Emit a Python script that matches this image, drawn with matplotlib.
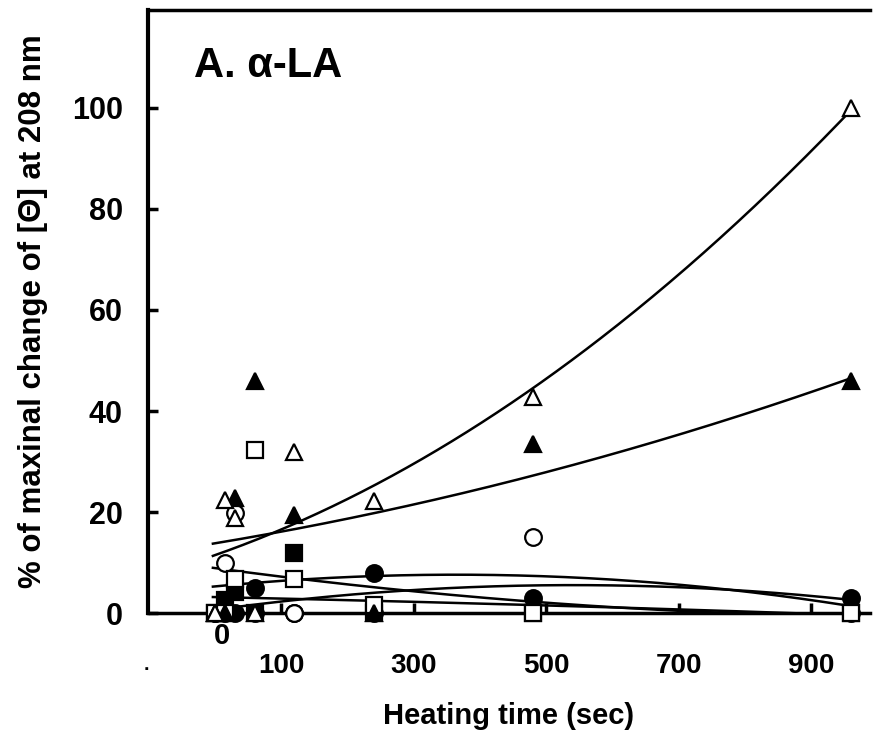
import numpy as np
import matplotlib.pyplot as plt

# heating time (sec) and % of maximal change of [theta] at 208 nm
t = [0, 15, 30, 60, 120, 240, 480, 960]
open_tri = [0, 22.3, 18.9, 0, 31.8, 22.1, 42.7, 100]
fill_tri = [0, 0, 22.7, 46.0, 19.5, 0, 33.4, 46.0]
open_circ = [0, 9.9, 19.9, 0, 0, 0, 15.1, 0]
fill_circ = [0, 0, 0, 5.0, 0, 8.0, 3.0, 3.0]
fill_sq = [0, 2.6, 4.2, 0, 11.9, 0, 0, 0]
open_sq = [0, 0, 6.8, 32.2, 6.8, 1.5, 0, 0]

xticks = [100, 300, 500, 700, 900]
yticks = [0, 20, 40, 60, 80, 100]

plt.rcParams['font.family'] = ['Liberation Sans', 'DejaVu Sans']
plt.rcParams['font.weight'] = 'bold'

fig = plt.figure(figsize=(8.73, 7.36), dpi=100)
ax = fig.add_axes([0.1695, 0.1671, 0.8271, 0.8193])

series = [
    (fill_circ, 'o', 'black', 12),
    (open_circ, 'o', 'white', 12),
    (fill_sq, 's', 'black', 11),
    (open_sq, 's', 'white', 11),
    (fill_tri, '^', 'black', 12),
    (open_tri, '^', 'white', 12),
]

tt = np.linspace(-3, 960, 300)
for y, m, fc, ms in series:
    c = np.polyfit(t, y, 2)
    ax.plot(tt, np.polyval(c, tt), color='black', lw=1.8, zorder=2)
for y, m, fc, ms in series:
    ax.plot(t, y, linestyle='none', marker=m, ms=ms, mfc=fc, mec='black',
            mew=1.6, clip_on=False, zorder=3)

ax.set_xlim(-101, 989)
ax.set_ylim(0, 119.4)
ax.spines['right'].set_visible(False)
ax.spines['left'].set_linewidth(3)
ax.spines['top'].set_linewidth(2.5)
ax.spines['bottom'].set_linewidth(2.5)

ax.set_xticks(xticks)
ax.set_yticks(yticks)
ax.tick_params(axis='both', direction='in', length=7, width=2.5)
ax.tick_params(axis='x', pad=29, labelsize=20)
ax.tick_params(axis='y', pad=18, labelsize=22)

ax.text(10, -4.5, '0', fontsize=21, fontweight='bold', ha='center', va='center')
ax.text(-103, -10.4, '.', fontsize=14, fontweight='bold', ha='center', va='center')

ax.set_xlabel('Heating time (sec)', fontsize=21, fontweight='bold', labelpad=16)
ax.set_ylabel('% of maxinal change of [Θ] at 208 nm', fontsize=22.5,
              fontweight='bold', labelpad=17)
ax.text(-31, 108.3, 'A. α-LA', fontsize=30, fontweight='bold', va='center')

fig.savefig('out.png', dpi=100)
